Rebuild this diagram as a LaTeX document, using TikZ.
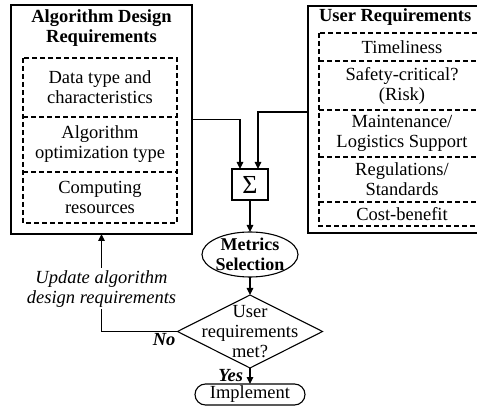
\documentclass[tikz,border=0pt]{standalone}
\usepackage{fontspec}
\setmainfont{Liberation Serif}
\usetikzlibrary{shapes,arrows.meta,positioning}

\begin{document}
\begin{tikzpicture} [
    x=1pt, y=-1pt,
    line width=1.1pt,
    >={Triangle[length=7pt,width=6.5pt]},
    every node/.style={font=\fontsize{18.5}{20}\selectfont, inner sep=2pt, outer sep=0pt},
  ]

  \tikzstyle{outer} = [
    draw,
    rectangle,
  ]
  \tikzstyle{title} = [
    align=center,
    font=\fontsize{18.5}{20}\selectfont\bfseries,
  ]
  \tikzstyle{cell} = [
    rectangle,
    align=center,
    inner sep=1pt,
  ]
  \tikzstyle{dashbox} = [
    dash pattern=on 5pt off 3pt,
  ]
  \tikzstyle{metric} = [
    ellipse,
    draw,
    align=center,
    minimum width=96,
    minimum height=45,
    inner xsep=-2pt,
    inner ysep=-4pt,
    font=\fontsize{18}{20}\selectfont\bfseries,
  ]
  \tikzstyle{decide} = [
    diamond,
    draw,
    minimum width=145,
    minimum height=73,
    inner sep=0pt,
  ]
  \tikzstyle{impl} = [
    rounded rectangle,
    draw,
    minimum width=110,
    minimum height=21,
    inner sep=0pt,
  ]
  \tikzstyle{yesno} = [
    font=\fontsize{18.5}{20}\selectfont\bfseries\itshape,
  ]

  \useasboundingbox (0,0) rectangle (477,406);
  \clip (0,0) rectangle (477,406);

  % algorithm design side
  \node[outer, minimum width=181, minimum height=229] (adr) at (101.5,119.5) {};
  \node[title] (adrtitle) at (101.5,28) {Algorithm Design\\Requirements};
  \node[cell, minimum width=154, minimum height=59] (datatype) at (100,87.5) {Data type and\\characteristics};
  \node[cell, minimum width=154, minimum height=55, below=0pt of datatype] (opttype) {Algorithm\\optimization type};
  \node[cell, minimum width=154, minimum height=51, below=0pt of opttype] (compute) {Computing\\resources};
  \draw[dashbox] (datatype.north west) rectangle (compute.south east);
  \draw[dashbox] (datatype.south west) -- (datatype.south east);
  \draw[dashbox] (opttype.south west) -- (opttype.south east);

  % user side
  \node[outer, minimum width=188, minimum height=227] (ureq) at (402,119.5) {};
  \node[title, anchor=west] (ureqtitle) at (317,17) {User Requirements};
  \node[cell, minimum width=166, minimum height=28] (timely) at (402,47) {Timeliness};
  \node[cell, minimum width=166, minimum height=49, below=0pt of timely] (safety) {Safety-critical?\\(Risk)};
  \node[cell, minimum width=166, minimum height=47, below=0pt of safety] (maint) {Maintenance/\\Logistics Support};
  \node[cell, minimum width=166, minimum height=45, below=0pt of maint] (regul) {Regulations/\\Standards};
  \node[cell, minimum width=166, minimum height=24, below=0pt of regul] (cost) {Cost-benefit};
  \draw[dashbox] (timely.north west) rectangle (cost.south east);
  \draw[dashbox] (timely.south west) -- (timely.south east);
  \draw[dashbox] (safety.south west) -- (safety.south east);
  \draw[dashbox] (maint.south west) -- (maint.south east);
  \draw[dashbox] (regul.south west) -- (regul.south east);

  % flow
  \node[outer, minimum width=36, minimum height=31, inner sep=0pt] (sum) at (250,184.5) {\fontsize{26}{26}\selectfont Σ};
  \node[metric] (metrics) at (250,254.5) {Metrics\\Selection};
  \node[decide, label={[align=center, inner sep=0pt]center:User\\requirements\\met?}] (met) at (250,331.5) {};
  \node[impl] (implement) at (250,394.5) {Implement};

  \draw[->] (adr.east) -| ([xshift=-10]sum.north);
  \draw[->] ([yshift=7.5]ureq.west) -| ([xshift=8]sum.north);
  \draw[->] (sum) -- (metrics);
  \draw[->] (metrics) -- (met);
  \draw[->] (met) -- node[left=5pt, yesno] {Yes} (implement);
  \draw[->] (met.west) -| node[pos=0, below left, yesno] {No}
    node[pos=0.72, fill=white, align=center, font=\fontsize{18.5}{20}\selectfont\itshape] {Update algorithm\\design requirements} (adr.south);

\end{tikzpicture}
\end{document}
